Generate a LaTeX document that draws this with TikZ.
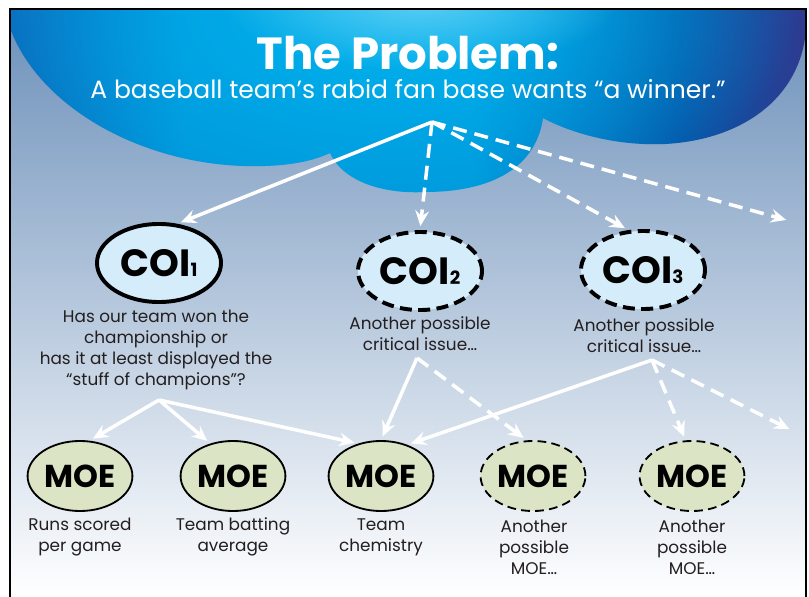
\documentclass[tikz,border=0pt]{standalone}
\usepackage{fontspec}
\setmainfont{Poppins}
\usetikzlibrary{arrows.meta,shapes.geometric,fadings}

\definecolor{bgtop}{HTML}{6C90BA}
\definecolor{bgmid}{HTML}{9CC6E2}
\definecolor{cloudleft}{HTML}{0A70C0}
\definecolor{cloudmid}{HTML}{0098DC}
\definecolor{clouddeep}{HTML}{0558AA}
\definecolor{cloudright}{HTML}{2E3A8F}
\definecolor{cloudglow}{HTML}{00B4EE}
\definecolor{cloudhi}{HTML}{5CCDF4}
\definecolor{coifill}{HTML}{D5ECFA}
\definecolor{moefill}{HTML}{DBE5C6}
\definecolor{notegray}{HTML}{231F20}

% the path box spans 25bp..75bp of the shading
\pgfdeclarehorizontalshading{cloudbody}{100bp}{color(0bp)=(cloudleft); color(25bp)=(cloudleft);
    color(36bp)=(cloudmid); color(54bp)=(cloudmid); color(67bp)=(clouddeep);
    color(75bp)=(cloudright); color(100bp)=(cloudright)}
\tikzfading[name=glow, inner color=transparent!0, outer color=transparent!100]

% small index digit sitting on the baseline
\newcommand{\issueno}[1]{{\fontsize{13}{13}\selectfont #1}}

\begin{document}
\begin{tikzpicture}[x=0.025cm, y=-0.025cm,
    issue/.style={ellipse, draw=black, line width=2.8pt, fill=coifill, minimum width=3.1cm,
        minimum height=1.95cm, inner sep=0pt, font=\bfseries\fontsize{27}{27}\selectfont},
    maybeissue/.style={issue, dash pattern=on 3mm off 1.6mm},
    measure/.style={ellipse, draw=black, line width=1.3pt, fill=moefill, minimum width=2.62cm,
        minimum height=1.75cm, inner sep=0pt, font=\bfseries\fontsize{22.5}{22.5}\selectfont},
    maybemeasure/.style={measure, dash pattern=on 2.2mm off 1.3mm},
    note/.style={align=center, text=notegray, font=\fontsize{12}{15}\selectfont},
    link/.style={white, line width=2.5pt, -{Stealth[length=3.8mm, width=3.4mm, inset=1.3mm]},
        shorten >=1mm},
    maybelink/.style={link, dash pattern=on 3.5mm off 2mm}]

    \useasboundingbox (0,0) rectangle (809,597);

    % Backdrop
    \shade[top color=bgtop, middle color=bgmid, bottom color=white] (10,9) rectangle (806,597);

    % Cloud
    \begin{scope}
        \clip (10,9) -- (10,28) .. controls (40,110) and (150,170) .. (265,166)
            .. controls (295,165) and (315,160) .. (330,153)
            .. controls (345,185) and (390,194) .. (425,192)
            .. controls (485,192) and (535,172) .. (543,118)
            .. controls (575,135) and (620,146) .. (665,144)
            .. controls (740,140) and (800,100) .. (806,30) -- (806,9) -- cycle;
        \shade[shading=cloudbody] (10,9) rectangle (806,200);
        \fill[cloudglow, path fading=glow] (400,10) ellipse (400 and 210);
        \fill[cloudhi, path fading=glow] (420,0) ellipse (200 and 70);
    \end{scope}

    \draw[line width=1.6pt] (10,9) rectangle (806,640);

    % Problem statement
    \node[font=\bfseries\fontsize{32}{32}\selectfont, text=white, anchor=base] (title) at (408,70) {The Problem:};
    \node[font=\fontsize{17.8}{17.8}\selectfont, text=white, anchor=base] (subtitle) at (408,99)
        {A baseball team’s rabid fan base wants “a winner.”};

    % Critical operational issues
    \node[issue] (coi1) at (159,263) {COI\issueno{1}};
    \node[maybeissue] (coi2) at (420,271) {COI\issueno{2}};
    \node[maybeissue] (coi3) at (643,270) {COI\issueno{3}};

    \node[note] (coi1txt) at (156,350) {Has our team won the\\championship or\\has it at least displayed the\\“stuff of champions”?};
    \node[note] (coi2txt) at (420,334) {Another possible\\critical issue…};
    \node[note] (coi3txt) at (644,336) {Another possible\\critical issue…};

    % Measures of effectiveness
    \node[measure] (moe1) at (80,476) {MOE};
    \node[measure] (moe2) at (233,476) {MOE};
    \node[measure] (moe3) at (381,476) {MOE};
    \node[maybemeasure] (moe4) at (533,476) {MOE};
    \node[maybemeasure] (moe5) at (692,476) {MOE};

    \node[note] (moe1txt) at (80,537) {Runs scored\\per game};
    \node[note] (moe2txt) at (233,537) {Team batting\\average};
    \node[note] (moe3txt) at (381,537) {Team\\chemistry};
    \node[note] (moe4txt) at (534,547) {Another\\possible\\MOE…};
    \node[note] (moe5txt) at (692,547) {Another\\possible\\MOE…};

    % Branch points
    \coordinate (prob) at (432,122);
    \coordinate (more1) at (790,221);
    \coordinate (h1) at (159,400);
    \coordinate (h2) at (417,358);
    \coordinate (h3) at (652,360);
    \coordinate (more2) at (793,431);

    % Problem -> issues
    \draw[link] (prob) -- (coi1.65);
    \draw[maybelink] (prob) -- (coi2.north);
    \draw[maybelink] (prob) -- (coi3.110);
    \draw[maybelink] (prob) -- (more1);

    % Issues -> measures
    \draw[link] (h1) -- (moe1.75);
    \draw[link] (h1) -- (moe2.125);
    \draw[link] (h1) -- (moe3.125);
    \draw[link] (h2) -- (moe3.north);
    \draw[maybelink] (h2) -- (moe4.100);
    \draw[link] (h3) -- (moe3.50);
    \draw[maybelink] (h3) -- (moe5.100);
    \draw[maybelink] (h3) -- (more2);

\end{tikzpicture}
\end{document}
